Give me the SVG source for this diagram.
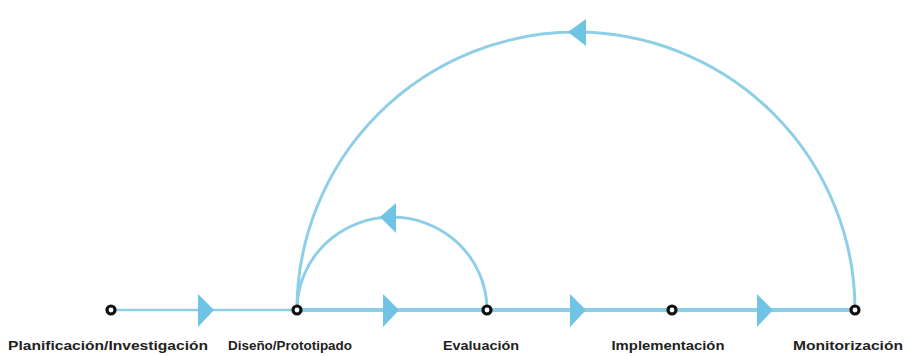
<svg xmlns="http://www.w3.org/2000/svg" width="907" height="356" viewBox="0 0 907 356">
<style>
.ln{fill:none;stroke:#8dcfe6;stroke-linecap:round}
.ar{fill:#6fc3e4}
.nd{fill:#fff;stroke:#111;stroke-width:3.2}
.lb{font-family:"Liberation Sans",Arial,sans-serif;font-size:12px;font-weight:bold;fill:#222;text-anchor:middle}
</style>
<rect width="907" height="356" fill="#fff"/>
<g id="connectors">
<line class="ln" x1="111" y1="310" x2="297" y2="310" stroke-width="2.5"/>
<line class="ln" x1="297" y1="310" x2="855" y2="310" stroke-width="4"/>
<path class="ln" d="M297 310 A95 93 0 0 1 487 310" stroke-width="3"/>
<path class="ln" d="M297 310 A279 278 0 0 1 855 310" stroke-width="3"/>
<polygon class="ar" points="198,294 214,310 198,327"/>
<polygon class="ar" points="383,294 399,310 383,327"/>
<polygon class="ar" points="570,294 586,310 570,327"/>
<polygon class="ar" points="757,294 773,310 757,327"/>
<polygon class="ar" points="380,217 396,203 396,233"/>
<polygon class="ar" points="568,32 586,19 586,46"/>
</g>
<g id="n1"><circle class="nd" cx="111" cy="310" r="4"/><text class="lb" x="108" y="350" textLength="200" lengthAdjust="spacingAndGlyphs">Planificación/Investigación</text></g>
<g id="n2"><circle class="nd" cx="297" cy="310" r="4"/><text class="lb" x="290" y="350" textLength="124" lengthAdjust="spacingAndGlyphs">Diseño/Prototipado</text></g>
<g id="n3"><circle class="nd" cx="487" cy="310" r="4"/><text class="lb" x="481" y="350" textLength="76" lengthAdjust="spacingAndGlyphs">Evaluación</text></g>
<g id="n4"><circle class="nd" cx="672" cy="310" r="4"/><text class="lb" x="668" y="350" textLength="113" lengthAdjust="spacingAndGlyphs">Implementación</text></g>
<g id="n5"><circle class="nd" cx="855" cy="310" r="4"/><text class="lb" x="848" y="350" textLength="110" lengthAdjust="spacingAndGlyphs">Monitorización</text></g>
</svg>
